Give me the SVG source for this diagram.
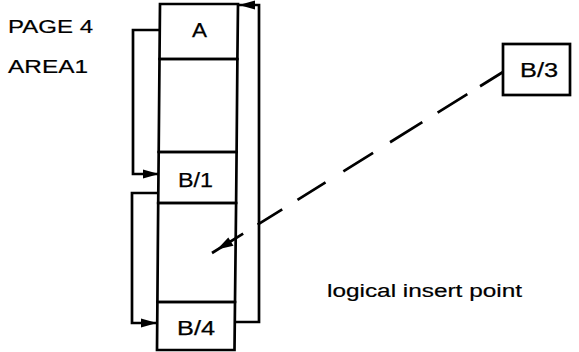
<svg xmlns="http://www.w3.org/2000/svg" width="579" height="352" viewBox="0 0 579 352">
<style>
  .ln{fill:none;stroke:#000;stroke-width:2.7;stroke-linejoin:miter;stroke-linecap:butt}
  .lbl{font-family:"Liberation Sans",Arial,sans-serif;font-size:20px;fill:#000;stroke:#000;stroke-width:0.25}
  .cap{font-family:"Liberation Sans",Arial,sans-serif;font-size:18px;fill:#000;stroke:#000;stroke-width:0.2}
  .dash{fill:none;stroke:#000;stroke-width:2.7;stroke-dasharray:27 15 35 18 38 20 35 21 33 18 29 17 37}
</style>
<defs>
  <marker id="ah" viewBox="0 0 16 10" refX="16" refY="5" markerWidth="16" markerHeight="10" markerUnits="userSpaceOnUse" orient="auto">
    <path d="M0,0.5 L16,5 L0,9.5 z" fill="#000"/>
  </marker>
</defs>
<rect width="579" height="352" fill="#fff"/>
<g id="title">
  <text class="cap" x="8" y="33" textLength="85" lengthAdjust="spacingAndGlyphs">PAGE 4</text>
  <text class="cap" x="8" y="73" textLength="80" lengthAdjust="spacingAndGlyphs">AREA1</text>
</g>
<g id="page-column">
  <g id="node-A">
    <path class="ln" d="M160,4 L238,4 L237.4,59 L159.5,59 Z"/>
    <text class="lbl" x="192" y="37" textLength="15" lengthAdjust="spacingAndGlyphs">A</text>
  </g>
  <g id="slot-1">
    <path class="ln" d="M159.5,59 L237.4,59 L236.6,152 L158.7,152 Z"/>
  </g>
  <g id="node-B1">
    <path class="ln" d="M158.7,152 L236.6,152 L236.1,203 L158.2,203 Z"/>
    <text class="lbl" x="178" y="187" textLength="35" lengthAdjust="spacingAndGlyphs">B/1</text>
  </g>
  <g id="slot-2">
    <path class="ln" d="M158.2,203 L236.1,203 L235,302 L157.4,302 Z"/>
  </g>
  <g id="node-B4">
    <path class="ln" d="M157.4,302 L235,302 L234.5,350 L157,350 Z"/>
    <text class="lbl" x="177" y="335" textLength="38" lengthAdjust="spacingAndGlyphs">B/4</text>
  </g>
</g>
<g id="node-B3">
  <rect class="ln" x="503" y="44" width="67" height="51"/>
  <text class="lbl" x="520" y="77" textLength="38" lengthAdjust="spacingAndGlyphs">B/3</text>
</g>
<g id="insert-label">
  <text class="cap" x="327" y="297" textLength="195" lengthAdjust="spacingAndGlyphs">logical insert point</text>
</g>
<g id="connectors">
  <path class="ln" d="M160,30 L133,30 L133,174 L159,174" marker-end="url(#ah)"/>
  <path class="ln" d="M158.3,193 L132,193 L132,323 L157,323" marker-end="url(#ah)"/>
  <path class="ln" d="M234.7,322 L259,322 L259,5 L239,5" marker-end="url(#ah)"/>
  <path class="dash" d="M503,72 L212,253"/>
  <path d="M217,249.5 L233.5,245.8 L228.3,237.4 Z" fill="#000"/>
</g>
</svg>
